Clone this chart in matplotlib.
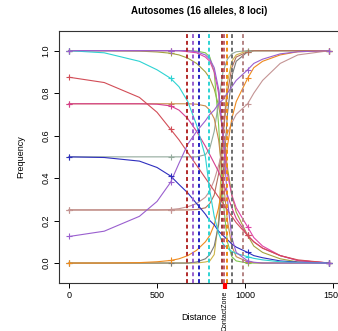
"""
Autosomes cline plot: allele frequencies along the distance axis
"""
import matplotlib
matplotlib.use("Agg")
import matplotlib.pyplot as plt

plt.rcParams['font.family'] = ['Liberation Sans', 'DejaVu Sans']

# sample distances (shared by all curves)
distance = [0, 200, 400, 500, 577, 625, 675, 725, 775, 800, 825, 850,
            875, 900, 925, 950, 1015, 1050, 1100, 1200, 1300, 1480]
marker_idx = [0, 4, 16, 21]

# allele frequencies
purple_a = [1, 1, 1, 1, 1, 1, 1, 0.995, 0.98, 0.96, 0.92, 0.82, 0.6, 0.3, 0.12, 0.05, 0.01, 0.004, 0, 0, 0, 0]
gray_a = [0, 0, 0, 0, 0, 0, 0, 0.005, 0.02, 0.04, 0.08, 0.18, 0.4, 0.7, 0.88, 0.95, 0.995, 1, 1, 1, 1, 1]
cyan_b = [1, 0.99, 0.95, 0.91, 0.87, 0.83, 0.76, 0.65, 0.5, 0.34, 0.22, 0.14, 0.09, 0.07, 0.055, 0.045, 0.03, 0.022, 0.015, 0.006, 0.002, 0]
green_b = [1, 1, 1, 1, 1, 1, 1, 0.998, 0.99, 0.97, 0.9, 0.65, 0.3, 0.1, 0.03, 0.01, 0, 0, 0, 0, 0, 0]
khaki_b = [0, 0, 0, 0, 0, 0, 0, 0, 0.005, 0.01, 0.04, 0.2, 0.6, 0.85, 0.95, 0.98, 1, 1, 1, 1, 1, 1]
red_c = [0.875, 0.85, 0.78, 0.71, 0.63, 0.58, 0.52, 0.46, 0.4, 0.37, 0.34, 0.31, 0.28, 0.25, 0.22, 0.19, 0.13, 0.1, 0.07, 0.035, 0.015, 0]
purple_c = [0.125, 0.15, 0.22, 0.29, 0.38, 0.47, 0.56, 0.62, 0.67, 0.7, 0.72, 0.75, 0.77, 0.8, 0.83, 0.86, 0.91, 0.94, 0.96, 0.985, 0.995, 1]
pink_d = [0.75, 0.75, 0.75, 0.748, 0.74, 0.72, 0.68, 0.62, 0.55, 0.51, 0.47, 0.43, 0.38, 0.32, 0.26, 0.21, 0.13, 0.1, 0.07, 0.035, 0.012, 0]
rosy_d = [0.25, 0.25, 0.25, 0.25, 0.252, 0.256, 0.265, 0.28, 0.31, 0.34, 0.39, 0.46, 0.54, 0.61, 0.66, 0.7, 0.75, 0.8, 0.86, 0.94, 0.98, 1]
tan_e = [0.75, 0.75, 0.75, 0.75, 0.75, 0.75, 0.75, 0.748, 0.74, 0.72, 0.68, 0.58, 0.4, 0.2, 0.08, 0.03, 0.006, 0.002, 0, 0, 0, 0]
sienna_e = [0.25, 0.25, 0.25, 0.25, 0.25, 0.25, 0.25, 0.252, 0.26, 0.28, 0.32, 0.42, 0.6, 0.8, 0.92, 0.97, 0.995, 1, 1, 1, 1, 1]
blue_f = [0.5, 0.497, 0.48, 0.45, 0.41, 0.37, 0.33, 0.28, 0.23, 0.2, 0.18, 0.15, 0.13, 0.11, 0.09, 0.075, 0.05, 0.035, 0.025, 0.01, 0.004, 0]
graygreen_f = [0.5, 0.5, 0.5, 0.5, 0.5, 0.5, 0.5, 0.5, 0.51, 0.54, 0.62, 0.76, 0.9, 0.96, 0.985, 0.995, 1, 1, 1, 1, 1, 1]
orange_g = [0, 0, 0.002, 0.006, 0.012, 0.02, 0.035, 0.06, 0.1, 0.13, 0.18, 0.26, 0.38, 0.55, 0.68, 0.76, 0.87, 0.92, 0.95, 0.98, 0.995, 1]
olive_g = [1, 1, 0.998, 0.994, 0.988, 0.98, 0.965, 0.94, 0.9, 0.87, 0.82, 0.74, 0.62, 0.45, 0.32, 0.24, 0.13, 0.08, 0.05, 0.02, 0.005, 0]
magenta_h = [1, 1, 1, 1, 1, 1, 0.995, 0.99, 0.97, 0.95, 0.9, 0.8, 0.6, 0.42, 0.32, 0.26, 0.17, 0.12, 0.08, 0.035, 0.012, 0]

curves = [
    (olive_g, '#A3A23E'), (khaki_b, '#CDB548'), (green_b, '#7EC850'),
    (gray_a, '#7A7A7A'), (graygreen_f, '#93AA9C'), (sienna_e, '#B3705A'),
    (tan_e, '#C98A4C'), (rosy_d, '#C49494'), (orange_g, '#EE8A1E'),
    (magenta_h, '#E044A8'), (pink_d, '#D63D8F'), (red_c, '#D24D57'),
    (blue_f, '#2E2EBE'), (purple_c, '#9A5FCF'), (cyan_b, '#2ED3D3'),
    (purple_a, '#9A5FCF'),
]

# cline centres (dashed lines) and contact zone
centre_x = [669, 703, 740, 797, 868, 878, 896, 924, 990]
centre_col = ['#B22A2A', '#9A5FCF', '#2424C0', '#2ED3D3', '#A03A3A',
              '#C06070', '#F08C10', '#6E6E6E', '#B48484']
contact_zone = 886

fig = plt.figure(figsize=(3.38, 3.31), dpi=100)
ax = fig.add_axes([0.1734, 0.145, 0.8322, 0.7622])

for vals, col in curves:
    ax.plot(distance, vals, color=col, lw=0.8, zorder=3)
    ax.plot([distance[i] for i in marker_idx], [vals[i] for i in marker_idx],
            linestyle='none', marker='+', ms=4, mew=0.8, color=col, zorder=4)

for xc, col in zip(centre_x, centre_col):
    ax.axvline(xc, color=col, lw=1.4, dashes=(2, 1.5), zorder=5)

ax.set_xlim(-59.2, 1539.2)
ax.set_ylim(-0.094, 1.094)
ax.set_xticks([0, 500, 1000, 1500])
ax.set_yticks([0.0, 0.2, 0.4, 0.6, 0.8, 1.0])
ax.set_yticklabels(['0.0', '0.2', '0.4', '0.6', '0.8', '1.0'],
                   rotation=90, va='center')
ax.tick_params(direction='out', length=3.6, width=0.7, labelsize=6.5, pad=2.5)
for s in ax.spines.values():
    s.set_linewidth(0.8)
    s.set_color('#333333')

ax.set_title('Autosomes (16 alleles, 8 loci)', fontsize=7, fontweight='bold', pad=12)
ax.set_xlabel('Distance', fontsize=6.5)
ax.set_ylabel('Frequency', fontsize=6.5)
ax.xaxis.set_label_coords(0.5, -0.118)
ax.yaxis.set_label_coords(-0.12, 0.5)

# contact zone marker below the axis
ax.plot([contact_zone, contact_zone], [-0.094, -0.12], color='red', lw=3,
        clip_on=False, solid_capstyle='butt', zorder=6)
ax.text(contact_zone, -0.13, 'ContactZone', rotation=90, fontsize=5,
        ha='center', va='top', clip_on=False)

plt.savefig('out.png', dpi=100)
